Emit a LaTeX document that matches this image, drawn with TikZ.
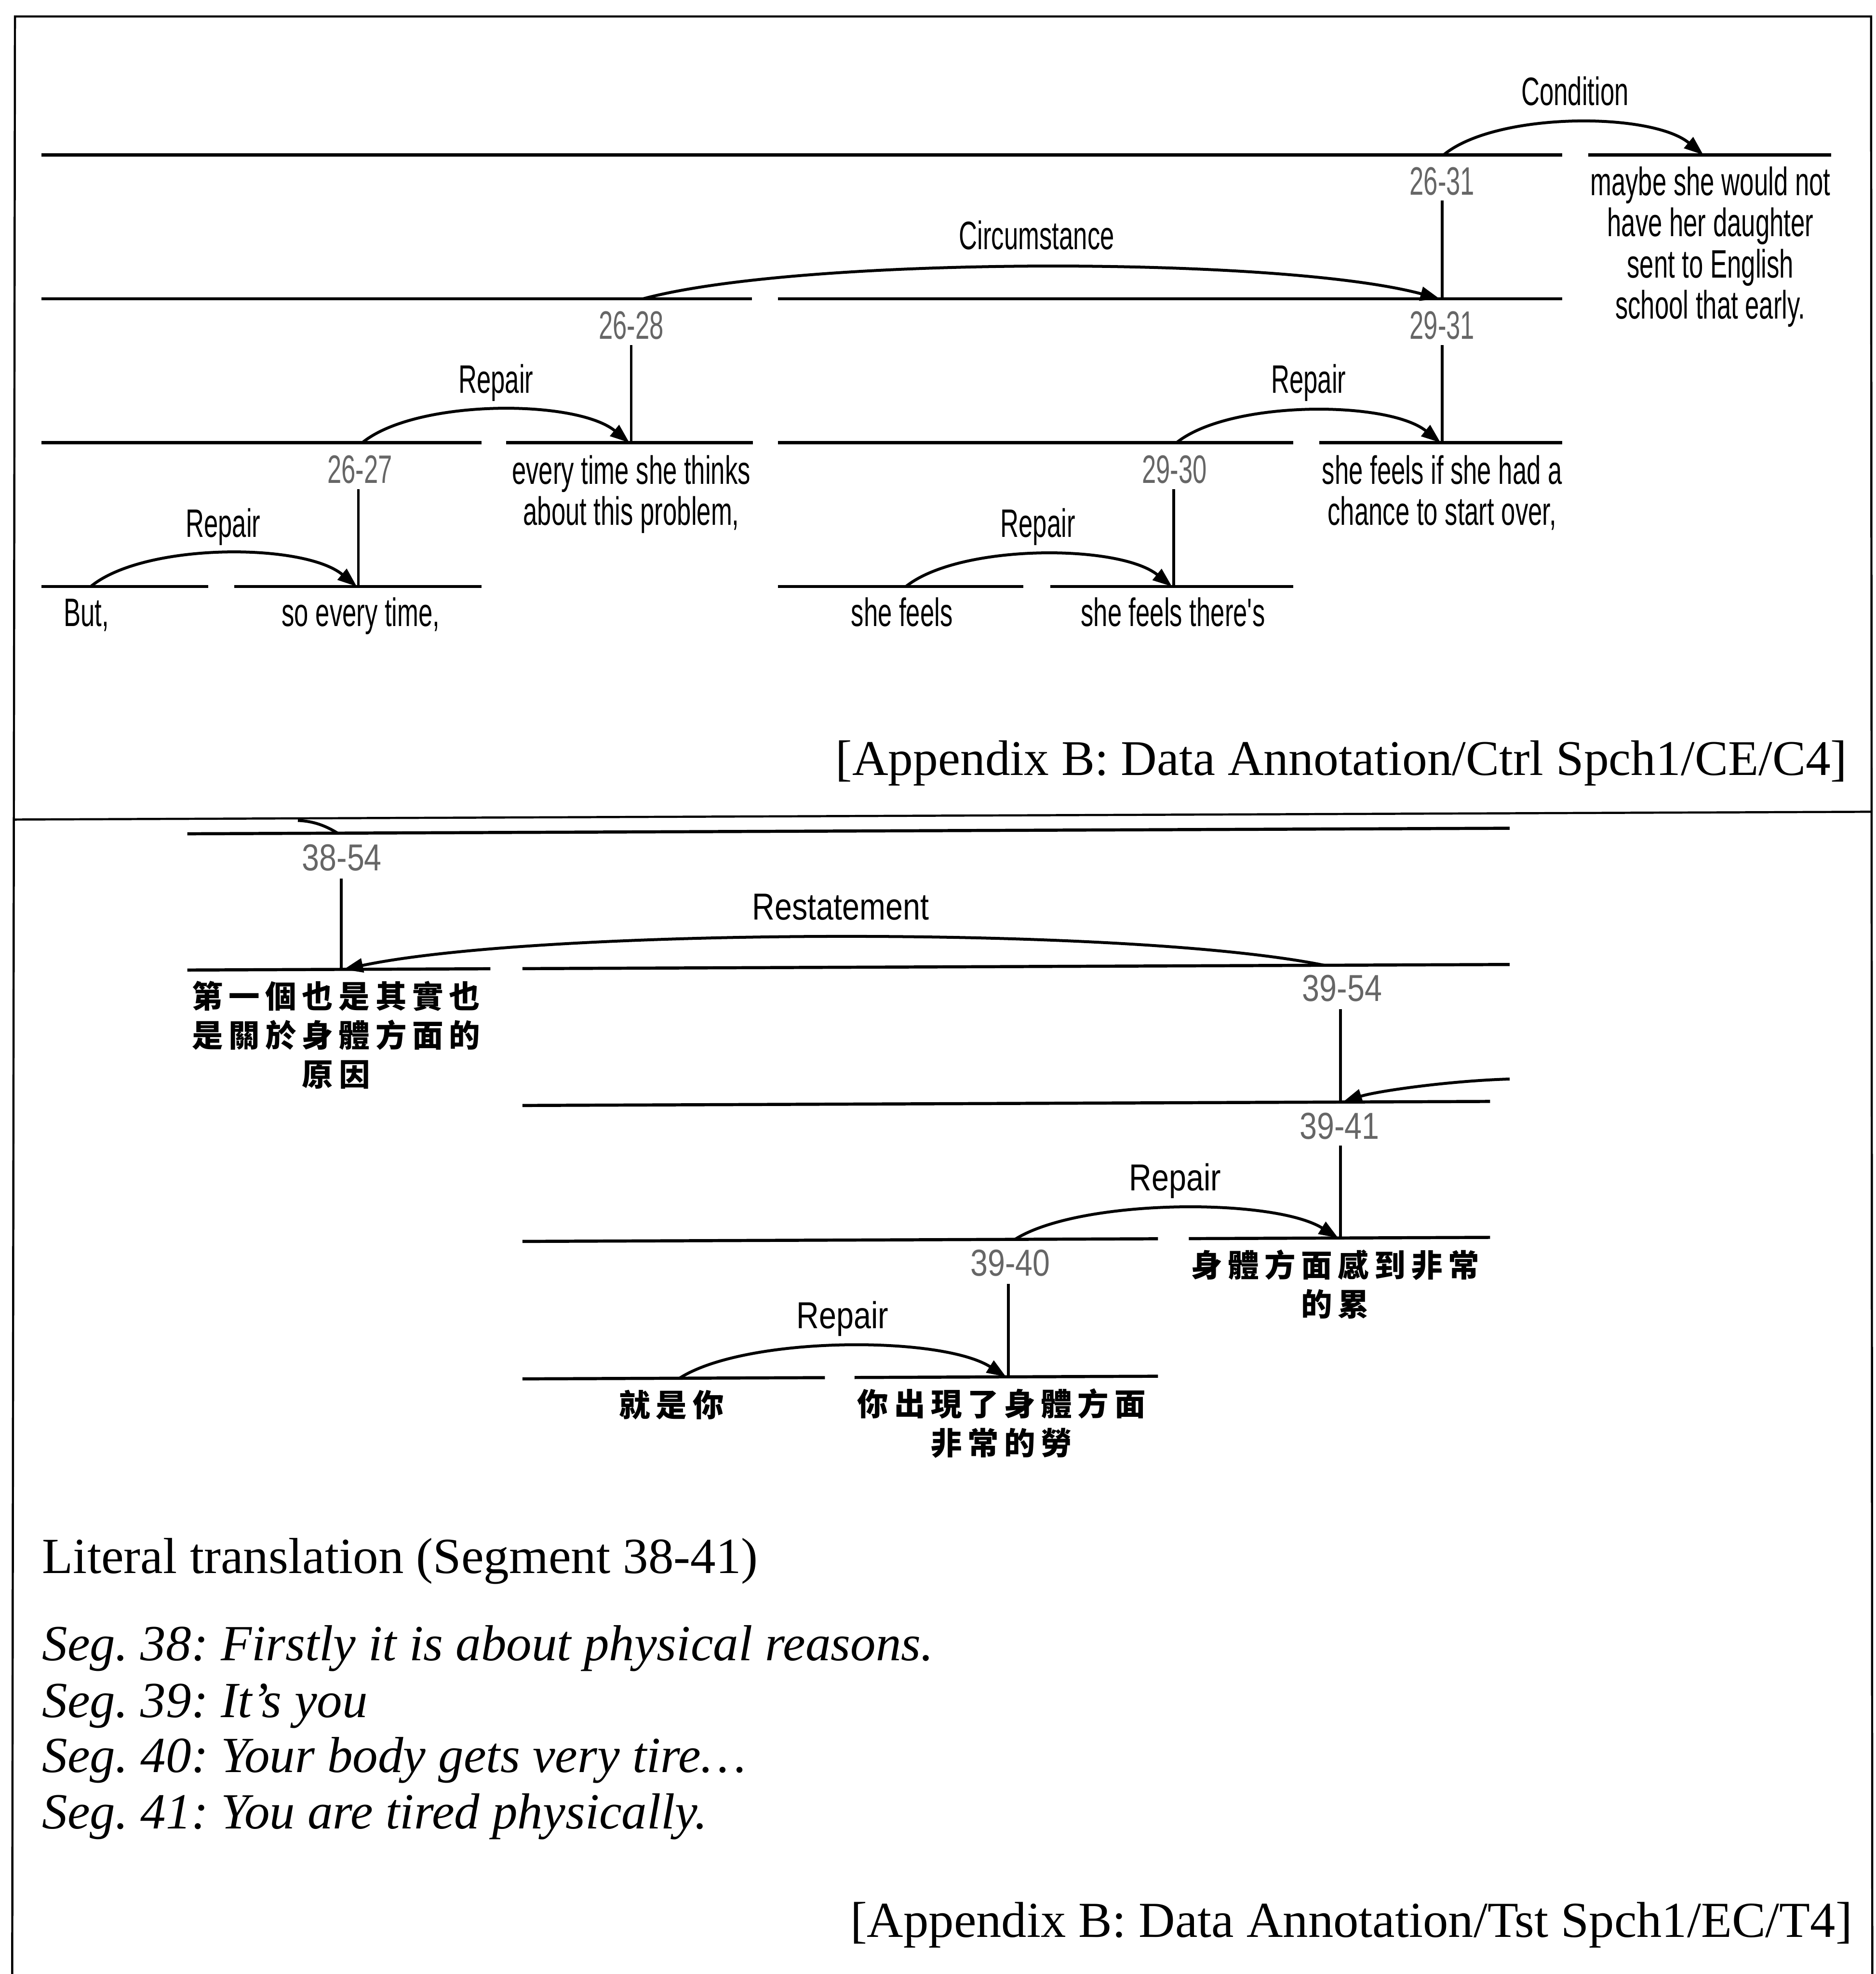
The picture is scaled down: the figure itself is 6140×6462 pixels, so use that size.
\documentclass[tikz,border=0pt]{standalone}
\usepackage{fontspec}
\setmainfont{Liberation Serif}
\newfontfamily\diagA[FakeStretch=0.64]{Liberation Sans}
\newfontfamily\diagB[FakeStretch=0.83]{Liberation Sans}
\newfontfamily\cjk[LetterSpace=18]{Noto Sans CJK TC}
\usetikzlibrary{arrows.meta}
\begin{document}
\frenchspacing
\begin{tikzpicture}[x=0.005cm, y=-0.005cm,
  frameline/.style={line width=1pt},
  seg/.style={line width=1.45pt},
  stem/.style={line width=1.3pt},
  rel/.style={line width=1.35pt, -{Triangle[length=9pt,width=6.5pt]}},
  plain/.style={line width=1.35pt},
  fA/.style={font=\diagA\fontsize{18.5}{19.2}\selectfont},
  fB/.style={font=\diagB\fontsize{17.5}{18.5}\selectfont},
  numA/.style={fA, inner sep=0, anchor=base, text=black!60},
  labA/.style={fA, inner sep=0, anchor=base},
  blockA/.style={fA, inner sep=0, anchor=north, align=center},
  numB/.style={fB, inner sep=0, anchor=base, text=black!60},
  labB/.style={fB, inner sep=0, anchor=base},
  zh/.style={inner sep=0, anchor=north, align=center, font=\cjk\bfseries\fontsize{14.5}{18.2}\selectfont},
  serif/.style={inner sep=0, font=\fontsize{23.25}{27}\selectfont\frenchspacing},
  serifit/.style={inner sep=0, anchor=base west, font=\fontsize{23.6}{27}\selectfont\itshape\frenchspacing}
]
\useasboundingbox (0,0) rectangle (6140,6462);

% ---------------- frame ----------------
\coordinate (fTL) at (49,54);
\coordinate (fTR) at (6124,54);
\coordinate (fBL) at (40,6462);
\coordinate (fBR) at (6128,6462);
\draw[frameline] (fBL) -- (fTL) -- (fTR) -- (fBR);

% ---------------- top panel: span lines ----------------
\draw[seg] (136,507) -- (5113,507);
\draw[seg] (5199,507) -- (5994,507);
\draw[seg] (136,978) -- (2461,978);
\draw[seg] (2546,978) -- (5113,978);
\draw[seg] (136,1449) -- (1576,1449);
\draw[seg] (1657,1449) -- (2465,1449);
\draw[seg] (2546,1449) -- (4232,1449);
\draw[seg] (4318,1449) -- (5113,1449);
\draw[seg] (136,1920) -- (682,1920);
\draw[seg] (767,1920) -- (1576,1920);
\draw[seg] (2546,1920) -- (3350,1920);
\draw[seg] (3437,1920) -- (4232,1920);

% number labels and stems
\node[numA] (n2631) at (4720,638) {26-31};
\node[numA] (n2628) at (2066,1110) {26-28};
\node[numA] (n2931) at (4720,1110) {29-31};
\node[numA] (n2627) at (1178,1582) {26-27};
\node[numA] (n2930) at (3844,1582) {29-30};
\coordinate (t2631) at (4720,657);  \coordinate (b2631) at (4720,978);
\coordinate (t2628) at (2066,1130); \coordinate (b2628) at (2066,1449);
\coordinate (t2931) at (4720,1130); \coordinate (b2931) at (4720,1449);
\coordinate (t2627) at (1173,1602); \coordinate (b2627) at (1173,1920);
\coordinate (t2930) at (3842,1602); \coordinate (b2930) at (3842,1920);
\draw[stem] (t2631) -- (b2631);
\draw[stem] (t2628) -- (b2628);
\draw[stem] (t2931) -- (b2931);
\draw[stem] (t2627) -- (b2627);
\draw[stem] (t2930) -- (b2930);

% relation arcs
\coordinate (condS) at (4725,507);  \coordinate (condT) at (5575,507);
\coordinate (circS) at (2105,978);  \coordinate (circT) at (4712,978);
\coordinate (repAS) at (1186,1449); \coordinate (repAT) at (2060,1449);
\coordinate (repBS) at (3851,1449); \coordinate (repBT) at (4715,1449);
\coordinate (repCS) at (297,1920);  \coordinate (repCT) at (1168,1920);
\coordinate (repDS) at (2965,1920); \coordinate (repDT) at (3836,1920);
\draw[rel] (condS) .. controls +(170,-141) and +(-170,-141) .. (condT);
\draw[rel] (circS) .. controls +(521,-140) and +(-521,-140) .. (circT);
\draw[rel] (repAS) .. controls +(175,-143) and +(-175,-143) .. (repAT);
\draw[rel] (repBS) .. controls +(173,-139) and +(-173,-139) .. (repBT);
\draw[rel] (repCS) .. controls +(174,-144) and +(-174,-144) .. (repCT);
\draw[rel] (repDS) .. controls +(174,-140) and +(-174,-140) .. (repDT);

\node[labA] (lCond) at (5155,345) {Condition};
\node[labA] (lCirc) at (3393,816) {Circumstance};
\node[labA] (lRepA) at (1623,1287) {Repair};
\node[labA] (lRepB) at (4283,1287) {Repair};
\node[labA] (lRepC) at (730,1758) {Repair};
\node[labA] (lRepD) at (3397,1758) {Repair};

% leaf texts
\node[blockA] (tMaybe) at (5598,544) {maybe she would not\\have her daughter\\sent to English\\school that early.};
\node[blockA] (tEvery) at (2066,1489) {every time she thinks\\about this problem,};
\node[blockA] (tIf) at (4720,1489) {she feels if she had a\\chance to start over,};
\node[labA, anchor=base west] (tBut) at (207,2050) {But,};
\node[labA] (tSo) at (1181,2050) {so every time,};
\node[labA] (tFeels) at (2952,2050) {she feels};
\node[labA] (tThere) at (3839,2050) {she feels there's};

\node[serif, anchor=base east] (appA) at (6047,2538) {[Appendix B: Data Annotation/Ctrl Spch1/CE/C4]};

% ---------------- bottom panel (slightly skewed scan) ----------------
\begin{scope}[cm={1,0.0042,0,1,(0,0)}]
\coordinate (sepL) at (49,2683);
\coordinate (sepR) at (6126,2683);
\draw[frameline] (sepL) -- (sepR);

\draw[seg] (613,2732) -- (4941,2732);
\draw[seg] (613,3178) -- (1605,3178);
\draw[seg] (1710,3178) -- (4941,3178);
\draw[seg] (1710,3626) -- (4877,3626);
\draw[seg] (1710,4071) -- (3790,4071);
\draw[seg] (3891,4071) -- (4877,4071);
\draw[seg] (1710,4521) -- (2700,4521);
\draw[seg] (2797,4521) -- (3790,4521);

\coordinate (t3854) at (1117,2881); \coordinate (b3854) at (1117,3178);
\coordinate (t3954) at (4387,3322); \coordinate (b3954) at (4387,3626);
\coordinate (t3941) at (4387,3769); \coordinate (b3941) at (4387,4071);
\coordinate (t3940) at (3300,4216); \coordinate (b3940) at (3300,4521);
\draw[stem] (t3854) -- (b3854);
\draw[stem] (t3954) -- (b3954);
\draw[stem] (t3941) -- (b3941);
\draw[stem] (t3940) -- (b3940);

\coordinate (restS) at (4334,3178); \coordinate (restT) at (1125,3178);
\coordinate (repES) at (3322,4071); \coordinate (repET) at (4380,4071);
\coordinate (repFS) at (2224,4521); \coordinate (repFT) at (3293,4521);
\coordinate (inS) at (4941,3553);   \coordinate (inT) at (4395,3626);
\coordinate (frS) at (975,2690);    \coordinate (frT) at (1105,2732);
\draw[rel] (restS) .. controls +(-642,-133) and +(642,-133) .. (restT);
\draw[rel] (repES) .. controls +(212,-133) and +(-212,-133) .. (repET);
\draw[rel] (repFS) .. controls +(214,-137) and +(-214,-137) .. (repFT);
\draw[rel] (inS) .. controls +(-200,5) and +(110,-35) .. (inT);
\draw[plain] (frS) .. controls +(50,2) and +(-40,-25) .. (frT);
\end{scope}

\node[numB] (n3854) at (1119,2850) {38-54};
\node[numB] (n3954) at (4393,3278) {39-54};
\node[numB] (n3941) at (4384,3728) {39-41};
\node[numB] (n3940) at (3307,4177) {39-40};
\node[labB] (lRest) at (2751,3011) {Restatement};
\node[labB] (lRepE) at (3846,3898) {Repair};
\node[labB] (lRepF) at (2758,4348) {Repair};

\node[zh] (z1) at (1100,3210) {第一個也是其實也\\是關於身體方面的\\原因};
\node[zh] (z2) at (4370,4090) {身體方面感到非常\\的累};
\node[zh] (z3) at (2198,4549) {就是你};
\node[zh] (z4) at (3278,4544) {你出現了身體方面\\非常的勞};

% ---------------- translation ----------------
\node[serif, anchor=base west, font=\fontsize{23.6}{27}\selectfont] (lit) at (137,5150) {Literal translation (Segment 38-41)};
\node[serifit] (s38) at (137,5436) {Seg. 38: Firstly it is about physical reasons.};
\node[serifit] (s39) at (137,5622) {Seg. 39: It’s you};
\node[serifit] (s40) at (137,5802) {Seg. 40: Your body gets very tire…};
\node[serifit] (s41) at (137,5987) {Seg. 41: You are tired physically.};
\node[serif, anchor=base east, font=\fontsize{23.5}{27}\selectfont] (appB) at (6064,6342) {[Appendix B: Data Annotation/Tst Spch1/EC/T4]};
\end{tikzpicture}
\end{document}
